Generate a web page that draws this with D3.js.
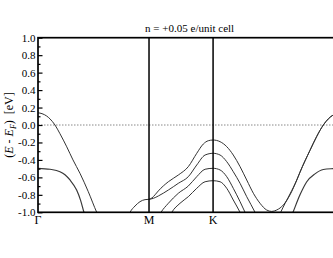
<!DOCTYPE html>
<html>
<head>
<meta charset="utf-8">
<script src="https://cdn.jsdelivr.net/npm/d3@7"></script>
<style>
    body { margin: 0; background: #fff; }
    svg { display: block; font-family: "Liberation Serif", "Times New Roman", serif; }
</style>
</head>
<body>
<svg id="chart" width="333" height="258"></svg>
<script>
// high symmetry points along the path (distance in units of Gamma-M)
const kPoints = [0, 1, 1.577, 2.732];
const kLabels = ["Γ", "M", "K", "Γ"];
const yMajor = [-1.0, -0.8, -0.6, -0.4, -0.2, 0.0, 0.2, 0.4, 0.6, 0.8, 1.0];
const yMinor = [-0.9, -0.7, -0.5, -0.3, -0.1, 0.1, 0.3, 0.5, 0.7, 0.9];
const title = "n = +0.05 e/unit cell";

// bands: [k, E - E_F]
const bandA = [[0, 0.14], [0.036, 0.13], [0.078, 0.103], [0.108, 0.07], [0.153, 0.0], [0.198, -0.1],
    [0.259, -0.25], [0.315, -0.40], [0.378, -0.553], [0.453, -0.764], [0.529, -1.0], [0.559, -1.08]];
const bandB = [[0, -0.496], [0.108, -0.507], [0.198, -0.535], [0.243, -0.57], [0.288, -0.63],
    [0.348, -0.745], [0.383, -0.86], [0.414, -1.0], [0.44, -1.1]];
const bandC = [[0.811, -1.05], [0.829, -1.0], [0.874, -0.928], [0.919, -0.878], [0.964, -0.855], [1.0, -0.851]];
const bandT = [[1.0, -0.851], [1.027, -0.835], [1.054, -0.80], [1.084, -0.755], [1.174, -0.65],
    [1.264, -0.573], [1.354, -0.477], [1.430, -0.324], [1.489, -0.218], [1.534, -0.18], [1.577, -0.172],
    [1.640, -0.191], [1.700, -0.248], [1.759, -0.344], [1.820, -0.477], [1.880, -0.63], [1.940, -0.782],
    [2.000, -0.897], [2.060, -0.974], [2.105, -0.99], [2.150, -0.974], [2.210, -0.916], [2.270, -0.80],
    [2.331, -0.63], [2.360, -0.54], [2.450, -0.29], [2.511, -0.13], [2.570, 0.0], [2.660, 0.115], [2.732, 0.14]];
const bandS = [[1.0, -0.851], [1.039, -0.84], [1.084, -0.813], [1.174, -0.745], [1.264, -0.668],
    [1.354, -0.592], [1.430, -0.458], [1.505, -0.344], [1.577, -0.324], [1.640, -0.344], [1.700, -0.42],
    [1.759, -0.535], [1.820, -0.668], [1.880, -0.821], [1.955, -1.0], [1.982, -1.07]];
const bandU = [[1.081, -1.06], [1.108, -1.0], [1.174, -0.897], [1.264, -0.782], [1.354, -0.699],
    [1.430, -0.592], [1.505, -0.507], [1.577, -0.496], [1.640, -0.515], [1.700, -0.592], [1.759, -0.725],
    [1.820, -0.878], [1.865, -1.0], [1.892, -1.07]];
const bandV = [[1.180, -1.06], [1.205, -1.0], [1.279, -0.897], [1.354, -0.821], [1.430, -0.725],
    [1.505, -0.65], [1.577, -0.638], [1.640, -0.65], [1.700, -0.725], [1.759, -0.859], [1.820, -1.0], [1.847, -1.07]];
const bandAr = [[2.162, -1.07], [2.186, -1.0], [2.225, -0.9], [2.270, -0.79], [2.331, -0.63], [2.360, -0.54],
    [2.450, -0.29], [2.511, -0.13], [2.570, 0.0], [2.660, 0.115], [2.732, 0.14]];
const bandBr = [[2.275, -1.07], [2.297, -1.0], [2.360, -0.80], [2.421, -0.65], [2.495, -0.56],
    [2.570, -0.51], [2.658, -0.50], [2.732, -0.496]];

const thinBands = [bandA, bandC, bandT, bandS, bandU, bandV, bandAr];
const thickBands = [bandB, bandBr];

const width = 333;
const svg = d3.select("#chart");
const x = d3.scaleLinear().domain([0, 2.732]).range([38, 341.3]);
const y = d3.scaleLinear().domain([-1, 1]).range([212.3, 37.7]);

svg.append("clipPath").attr("id", "plotclip")
    .append("rect")
    .attr("x", x(0)).attr("y", y(1))
    .attr("width", x(2.732) - x(0)).attr("height", y(-1) - y(1));

// fermi level
svg.append("line")
    .attr("x1", x(0)).attr("x2", x(2.732))
    .attr("y1", y(0)).attr("y2", y(0))
    .attr("stroke", "#888").attr("stroke-width", 1)
    .attr("stroke-dasharray", "1.5,1.5");

const line = d3.line()
    .x(d => x(d[0]))
    .y(d => y(d[1]))
    .curve(d3.curveMonotoneX);

const bands = svg.append("g").attr("clip-path", "url(#plotclip)").attr("fill", "none");
for (let b of thinBands) {
    bands.append("path").attr("d", line(b)).attr("stroke", "#333").attr("stroke-width", 1);
}
for (let b of thickBands) {
    bands.append("path").attr("d", line(b)).attr("stroke", "#3a3a3a").attr("stroke-width", 1.2);
}

// vertical lines at M and K
svg.selectAll(".kline")
    .data(kPoints.slice(1, 3))
    .join("line")
    .attr("class", "kline")
    .attr("x1", d => x(d)).attr("x2", d => x(d))
    .attr("y1", y(1)).attr("y2", y(-1))
    .attr("stroke", "#000").attr("stroke-width", 1.5);

// y axis, ticks pointing inward
const yAxis = svg.append("g")
    .attr("transform", `translate(${x(0)},0)`)
    .call(d3.axisLeft(y).tickValues(yMajor).tickSize(-4.5).tickPadding(2.5).tickFormat(d => d.toFixed(1)));
yAxis.attr("font-family", null).attr("font-size", null);
yAxis.select(".domain").remove();
yAxis.selectAll("text").attr("font-size", 11).attr("fill", "#000");
yAxis.selectAll("line").attr("stroke-width", 1.2);

const yMinorAxis = svg.append("g")
    .attr("transform", `translate(${x(0)},0)`)
    .call(d3.axisLeft(y).tickValues(yMinor).tickSize(-2.5).tickFormat(""));
yMinorAxis.select(".domain").remove();
yMinorAxis.selectAll("line").attr("stroke-width", 1.2);

// frame
svg.append("rect")
    .attr("x", x(0)).attr("y", y(1))
    .attr("width", x(2.732) - x(0)).attr("height", y(-1) - y(1))
    .attr("fill", "none").attr("stroke", "#000").attr("stroke-width", 1.7);

// k labels (the last Gamma falls outside the window)
svg.selectAll(".klabel")
    .data(kPoints.filter(d => x(d) < width))
    .join("text")
    .attr("class", "klabel")
    .attr("x", d => x(d))
    .attr("y", 224)
    .attr("text-anchor", "middle")
    .attr("font-size", 12)
    .text((d, i) => kLabels[i]);

svg.append("text")
    .attr("x", (x(0) + x(2.732)) / 2)
    .attr("y", 32)
    .attr("text-anchor", "middle")
    .attr("font-size", 11)
    .text(title);

const ylab = svg.append("text")
    .attr("transform", `translate(13,${(y(1) + y(-1)) / 2}) rotate(-90)`)
    .attr("text-anchor", "middle")
    .attr("font-size", 12)
    .style("white-space", "pre");
ylab.append("tspan").text("(");
ylab.append("tspan").attr("font-style", "italic").text("E");
ylab.append("tspan").text(" - ");
ylab.append("tspan").attr("font-style", "italic").text("E");
ylab.append("tspan").attr("font-style", "italic").attr("font-size", 8).attr("dy", 3).text("F");
ylab.append("tspan").attr("dy", -3).text(")  [eV]");
</script>
</body>
</html>
